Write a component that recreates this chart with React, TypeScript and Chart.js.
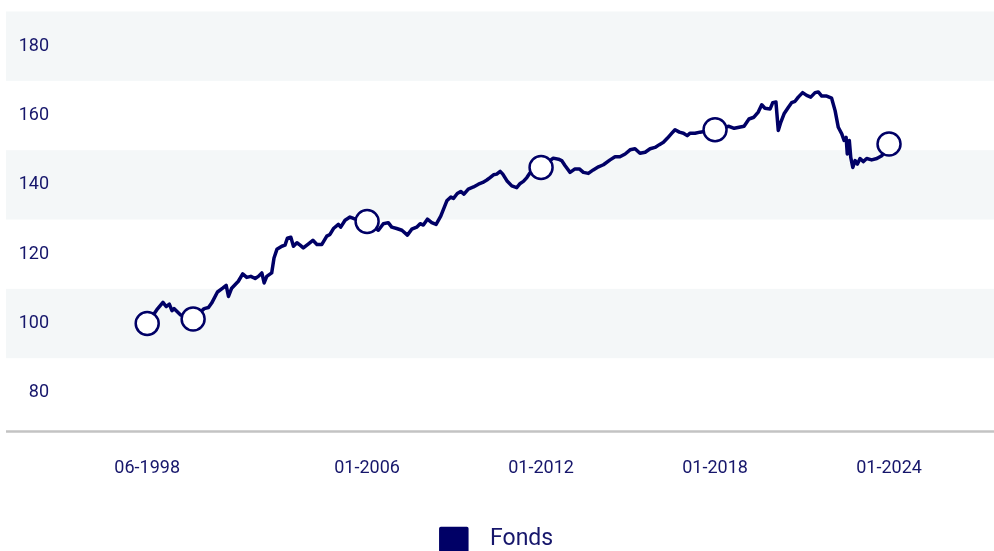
import React, { useEffect, useRef } from "react";
import { Chart, registerables } from "chart.js";

Chart.register(...registerables);

const NAVY = "#000066";
const TEXT = "#16166b";
const BAND = "#f4f7f8";
const AXIS = "#c3c3c3";
const FONT = "Roboto";
const W = 994;
const H = 551;

// Fund series (decimal year, indexed value)
const years = [
  1998.42, 1998.75, 1998.96, 1999.07, 1999.18, 1999.27, 1999.34, 1999.56, 2000.0, 2000.38,
  2000.53, 2000.64, 2000.84, 2001.02, 2001.14, 2001.22, 2001.33, 2001.56, 2001.71, 2001.85,
  2001.99, 2002.14, 2002.25, 2002.37, 2002.45, 2002.54, 2002.71, 2002.79, 2002.89, 2003.06,
  2003.17, 2003.25, 2003.37, 2003.46, 2003.58, 2003.69, 2003.8, 2003.98, 2004.13, 2004.27,
  2004.44, 2004.61, 2004.72, 2004.84, 2005.01, 2005.09, 2005.24, 2005.41, 2005.53, 2006.0,
  2006.39, 2006.56, 2006.73, 2006.85, 2007.02, 2007.2, 2007.39, 2007.54, 2007.71, 2007.83,
  2007.94, 2008.08, 2008.23, 2008.38, 2008.54, 2008.75, 2008.89, 2008.98, 2009.11, 2009.23,
  2009.34, 2009.49, 2009.67, 2009.84, 2009.99, 2010.13, 2010.24, 2010.36, 2010.47, 2010.59,
  2010.68, 2010.82, 2010.99, 2011.16, 2011.28, 2011.39, 2011.51, 2011.62, 2012.0,
  2012.42, 2012.6, 2012.71, 2012.83, 2013.0, 2013.17, 2013.32, 2013.46, 2013.63, 2013.8,
  2013.98, 2014.15, 2014.38, 2014.55, 2014.72, 2014.9, 2015.07, 2015.24, 2015.41, 2015.59,
  2015.76, 2015.93, 2016.08, 2016.22, 2016.36, 2016.51, 2016.62, 2016.77, 2016.91, 2017.04,
  2017.14, 2017.31, 2017.48, 2018.0,
  2018.48, 2018.66, 2018.83, 2019.0, 2019.17, 2019.34, 2019.49, 2019.61, 2019.72, 2019.9,
  2019.99, 2020.1, 2020.18, 2020.27, 2020.38, 2020.53, 2020.64, 2020.76, 2020.87, 2021.02,
  2021.16, 2021.3, 2021.45, 2021.56, 2021.68, 2021.85, 2022.02, 2022.14, 2022.25, 2022.37,
  2022.45, 2022.52, 2022.56, 2022.63, 2022.68, 2022.75, 2022.83, 2022.91, 2023.0, 2023.11,
  2023.23, 2023.4, 2023.58, 2023.75, 2024.0,
];

const fundValues = [
  100, 104.0, 106.1, 104.9, 105.6, 103.7, 104.3, 102.5, 101.3, 104.3,
  104.6, 105.9, 109.1, 110.2, 111.0, 107.8, 110.2, 112.2, 114.3, 113.3,
  113.6, 113.0, 113.6, 114.6, 111.7, 113.6, 114.6, 118.9, 121.4, 122.3,
  122.6, 124.6, 124.9, 122.3, 123.3, 122.6, 121.8, 123.0, 124.0, 122.8,
  122.8, 125.2, 125.7, 127.4, 128.6, 127.8, 129.8, 130.7, 130.3, 129.4,
  126.9, 128.8, 129.1, 127.8, 127.4, 126.9, 125.5, 127.2, 127.8, 128.8,
  128.4, 130.1, 129.1, 128.6, 131.0, 135.4, 136.5, 136.1, 137.5, 138.1,
  137.3, 138.8, 139.4, 140.2, 140.7, 141.4, 142.1, 142.9, 143.1, 143.9,
  143.1, 141.2, 139.7, 139.2, 140.4, 141.0, 142.1, 143.5, 145.0,
  147.7, 147.4, 147.0, 145.5, 143.6, 144.6, 144.6, 143.6, 143.3, 144.3,
  145.2, 145.8, 147.2, 148.1, 148.1, 148.9, 150.1, 150.4, 149.1, 149.4,
  150.4, 150.8, 151.6, 152.3, 153.5, 154.9, 155.9, 155.2, 154.9, 154.2,
  154.9, 154.9, 155.2, 155.9,
  156.9, 156.3, 156.6, 156.9, 159.0, 159.5, 161.0, 163.1, 162.1, 161.9,
  163.7, 163.9, 155.7, 158.1, 160.5, 162.4, 163.7, 164.1, 165.3, 166.6,
  165.8, 165.3, 166.6, 166.8, 165.6, 165.6, 165.0, 161.4, 156.6, 154.7,
  152.8, 153.7, 148.9, 152.8, 147.9, 145.0, 147.0, 146.0, 147.6, 146.7,
  147.6, 147.2, 147.6, 148.4, 151.8,
];

// Highlighted points (circles)
const markerDates = ["06-1998", "01-2000", "01-2006", "01-2012", "01-2018", "01-2024"];
const markerValues = [100, 101.3, 129.4, 145.0, 155.9, 151.8];

// Axis ticks
const xTickLabels = ["06-1998", "01-2006", "01-2012", "01-2018", "01-2024"];
const yTickValues = [80, 100, 120, 140, 160, 180];
const bandRanges = [
  [170, 190],
  [130, 150],
  [90, 110],
];

const toYear = (s: string) => {
  const [m, y] = s.split("-").map(Number);
  return y + (m - 1) / 12;
};

const bandsPlugin = {
  id: "bands",
  beforeDraw(chart: any) {
    const { ctx, chartArea, scales } = chart;
    const y = scales.y;
    ctx.save();
    ctx.fillStyle = BAND;
    for (const [a, b] of bandRanges) {
      const top = y.getPixelForValue(b);
      const bot = y.getPixelForValue(a);
      ctx.fillRect(6, top, chartArea.right - 6, bot - top);
    }
    ctx.strokeStyle = AXIS;
    ctx.lineWidth = 2.5;
    ctx.beginPath();
    ctx.moveTo(6, chartArea.bottom + 0.5);
    ctx.lineTo(chartArea.right, chartArea.bottom + 0.5);
    ctx.stroke();
    ctx.restore();
  },
};

export default function App() {
  const ref = useRef<HTMLCanvasElement>(null);

  useEffect(() => {
    if (!ref.current) return;
    const chart = new Chart(ref.current, {
      type: "line",
      data: {
        datasets: [
          {
            label: "markers",
            data: markerDates.map((d, i) => ({ x: toYear(d), y: markerValues[i] })),
            showLine: false,
            pointRadius: 11.5,
            pointBorderWidth: 2.5,
            pointBackgroundColor: "#ffffff",
            pointBorderColor: NAVY,
            pointHoverRadius: 11.5,
          },
          {
            label: "\u2002Fonds",
            data: years.map((x, i) => ({ x, y: fundValues[i] })),
            borderColor: NAVY,
            backgroundColor: NAVY,
            borderWidth: 3.5,
            pointRadius: 0,
            tension: 0,
            fill: false,
            borderJoinStyle: "round",
          },
        ],
      },
      options: {
        animation: false,
        responsive: false,
        maintainAspectRatio: false,
        devicePixelRatio: 1,
        layout: { autoPadding: false, padding: { top: 11.5, left: 0, right: 0, bottom: -10 } },
        plugins: {
          tooltip: { enabled: false },
          legend: {
            position: "bottom",
            labels: {
              filter: (item: any) => item.datasetIndex === 1,
              boxWidth: 26,
              boxHeight: 22,
              padding: 2,
              color: TEXT,
              font: { family: FONT, size: 23 },
            },
          },
        },
        scales: {
          x: {
            type: "linear",
            min: 1995.03,
            max: 2027.62,
            afterBuildTicks: (s: any) => {
              s.ticks = xTickLabels.map((l) => ({ value: toYear(l) }));
            },
            afterFit: (s: any) => {
              s.height = 95;
            },
            grid: { display: false, drawTicks: false },
            border: { display: false },
            ticks: {
              autoSkip: false,
              maxRotation: 0,
              padding: 27,
              color: TEXT,
              font: { family: FONT, size: 18 },
              callback: (_v: any, i: number) => xTickLabels[i],
            },
          },
          y: {
            min: 69,
            max: 190,
            afterBuildTicks: (s: any) => {
              s.ticks = yTickValues.map((v) => ({ value: v }));
            },
            afterFit: (s: any) => {
              s.width = 49;
            },
            grid: { display: false, drawTicks: false },
            border: { display: false },
            ticks: {
              padding: 0,
              color: TEXT,
              font: { family: FONT, size: 18 },
            },
          },
        },
      },
      plugins: [bandsPlugin],
    });
    return () => chart.destroy();
  }, []);

  return (
    <div style={{ position: "fixed", left: 0, top: 0, width: W, height: H, overflow: "hidden" }}>
      <canvas ref={ref} width={W} height={H} style={{ display: "block", width: W, height: H }} />
    </div>
  );
}
